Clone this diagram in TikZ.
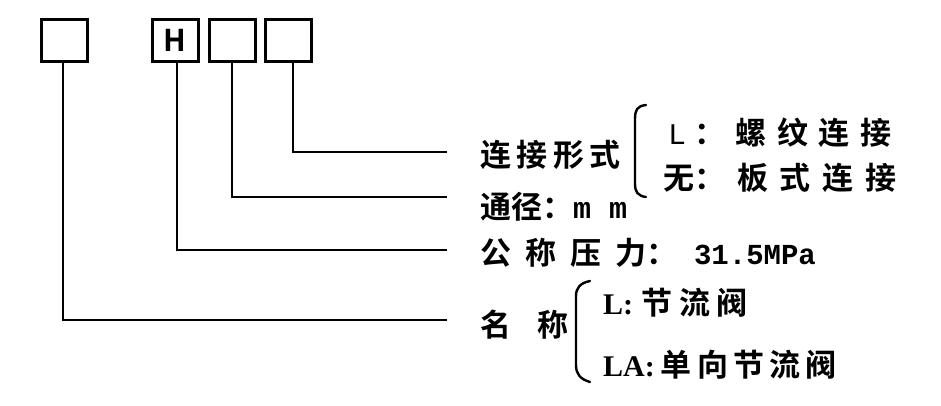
\documentclass[tikz,border=0pt]{standalone}
\usepackage{fontspec}
\newfontfamily\cjk{Noto Sans CJK SC Bold}
\newfontfamily\mono{Liberation Mono}
\newfontfamily\ser{Liberation Serif}
\newcommand\fsz[1]{\fontsize{#1}{#1}\selectfont}
\begin{document}
\begin{tikzpicture}[x=1pt,y=-1pt,
  codebox/.style={draw=black,line width=3pt,minimum width=46pt,minimum height=42pt,inner sep=0pt,font=\cjk\fsz{30}},
  lead/.style={draw=black,line width=2.6pt},
  brc/.style={draw=black,line width=2.4pt,line cap=round},
  lbl/.style={anchor=west,inner sep=0pt,font=\cjk\fsz{31}}]
\useasboundingbox (0,0) rectangle (941,405);
\node[codebox] (bname) at (64.5,40.5) {};
\node[codebox] (bpress) at (175,40.5) {H};
\node[codebox] (bsize) at (232,40.5) {};
\node[codebox] (bconn) at (288,40.5) {};
\node[lbl] (conn) at (480,155) {\addfontfeatures{LetterSpace=18}连接形式};
\node[lbl] (size) at (480,207) {通径：{\mono\bfseries\fsz{30}m m}};
\node[lbl] (press) at (480,253) {{\addfontfeatures{LetterSpace=45}公称压力}：\hspace{17pt}{\mono\bfseries\fsz{29}31.5MPa}};
\node[lbl] (name) at (480,325) {名\hspace{26pt}称};
\node[lbl] (thread) at (668,133) {{\mono\fsz{30}L}\hspace{8pt}：\hspace{10pt}{\addfontfeatures{LetterSpace=35}螺纹连接}};
\node[lbl] (plate) at (663,178) {无：\hspace{12pt}{\addfontfeatures{LetterSpace=38}板式连接}};
\node[lbl] (thr) at (603,303) {{\ser\bfseries\fsz{30}L:}\hspace{8pt}{\addfontfeatures{LetterSpace=22}节流阀}};
\node[lbl] (chk) at (603,365) {{\ser\bfseries\fsz{30}LA:}\hspace{6pt}{\addfontfeatures{LetterSpace=17}单向节流阀}};
\coordinate (econn) at (447,152);
\coordinate (esize) at (447,197);
\coordinate (epress) at (447,250);
\coordinate (ename) at (447,320);
\draw[lead] ([xshift=5pt]bconn.south) |- (econn);
\draw[lead] (bsize.south) |- (esize);
\draw[lead] ([xshift=2pt]bpress.south) |- (epress);
\draw[lead] ([xshift=-1.5pt]bname.south) |- (ename);
\draw[brc] (646,105) .. controls (637,106) and (635,110) .. (635,119) -- (635,184) .. controls (635,192) and (638,196) .. (646,197);
\draw[brc] (590,281) .. controls (580,283) and (576,288) .. (576,296) -- (576,365) .. controls (576,374) and (580,379) .. (590,382);
\end{tikzpicture}
\end{document}
